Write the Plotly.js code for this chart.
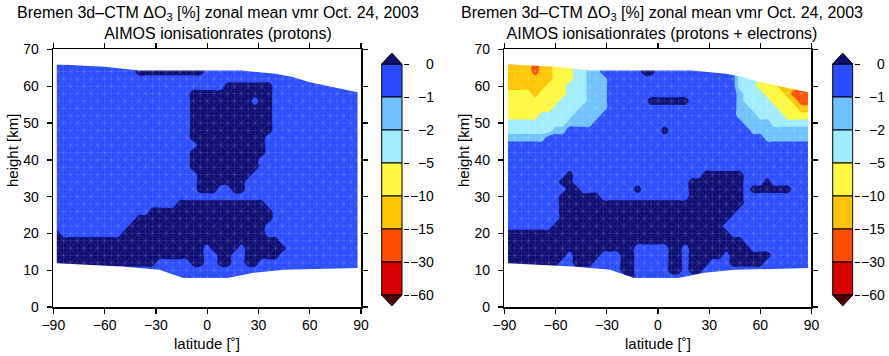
<!DOCTYPE html>
<html>
<head>
<meta charset="utf-8">
<script src="https://cdn.plot.ly/plotly-3.0.1.min.js"></script>
<style>
  html, body { margin: 0; padding: 0; background: #ffffff; }
  #chart { width: 889px; height: 356px; }
</style>
</head>
<body>
<div id="chart"></div>
<script>
// Class boundaries of the ozone change [%] and the colour of each band (top to bottom)
const levels = [0, -1, -2, -5, -10, -15, -30, -60];
const bandColors = ['#2a4bff', '#6ec0ff', '#a0ecff', '#fff83c', '#ffc400', '#ff4d00', '#d90000'];
const aboveColor = '#0c0c72';   // ΔO3 > 0
const belowColor = '#4d0000';   // ΔO3 < -60

// Model grid: latitude columns [deg] and height rows [km] (rows listed top to bottom)
const latitudes = [-88, -84, -80, -76, -72, -68, -64, -60, -56, -52, -48, -44, -40, -36, -32,
                   -28, -24, -20, -16, -12, -8, -4, 0, 4, 8, 12, 16, 20, 24, 28,
                   32, 36, 40, 44, 48, 52, 56, 60, 64, 68, 72, 76, 80, 84, 88];
const heights = [66, 64, 62, 60, 58, 56, 54, 52, 50, 48, 46, 44, 42, 40, 38, 36,
                 34, 32, 30, 28, 26, 24, 22, 20, 18, 16, 14, 12, 10, 8, 6];

// Representative ΔO3 [%] of each class letter used in the gridded fields
const classValue = { n: 0.5, b: -0.5, l: -1.5, c: -3.5, y: -7.5, o: -12.5, r: -22.5, d: -45 };

// ΔO3 field, AIMOS proton ionisation (one string per height row)
const protonRows = [
  'bbbbb bbbbb bbnnn nnnnn nnbbb bbbbb bbbbb bbbbb bbbbb',
  'bbbbb bbbbb bbnnn nnnnn nnbbb bbbbb bbbbb bbbbb bbbbb',
  'bbbbb bbbbb bbbbb bbbbb bbbbb bbbbb bbbbb bbbbb bbbbb',
  'bbbbb bbbbb bbbbb bbbbb bbbbb nnnnn nnbbb bbbbb bbbbb',
  'bbbbb bbbbb bbbbb bbbbb nnnnn nnnnn nnbbb bbbbb bbbbb',
  'bbbbb bbbbb bbbbb bbbbb nnnnn nnnnb nnbbb bbbbb bbbbb',
  'bbbbb bbbbb bbbbb bbbbb nnnnn nnnnn nnbbb bbbbb bbbbb',
  'bbbbb bbbbb bbbbb bbbbb nnnnn nnnnn nnbbb bbbbb bbbbb',
  'bbbbb bbbbb bbbbb bbbbb nnnnn nnnnn nnbbb bbbbb bbbbb',
  'bbbbb bbbbb bbbbb bbbbb nnnnn nnnnn nnbbb bbbbb bbbbb',
  'bbbbb bbbbb bbbbb bbbbb nnnnn nnnnn nbbbb bbbbb bbbbb',
  'bbbbb bbbbb bbbbb bbbbb bnnnn nnnnn nbbbb bbbbb bbbbb',
  'bbbbb bbbbb bbbbb bbbbb nnnnn nnnnn nbbbb bbbbb bbbbb',
  'bbbbb bbbbb bbbbb bbbbb nnnnn nnnnn bbbbb bbbbb bbbbb',
  'bbbbb bbbbb bbbbb bbbbb nnnnn nnnnn bbbbb bbbbb bbbbb',
  'bbbbb bbbbb bbbbb bbbbb bnnnn nnnnb bbbbb bbbbb bbbbb',
  'bbbbb bbbbb bbbbb bbbbb bnnnn nnnbb bbbbb bbbbb bbbbb',
  'bbbbb bbbbb bbbbb bbbbb bnnnb bnnbb bbbbb bbbbb bbbbb',
  'bbbbb bbbbb bbbbb bbbbb bbbbb bbbbb bbbbb bbbbb bbbbb',
  'bbbbb bbbbb bbbbb bbbnn nnnnn nnnnn nbbbb bbbbb bbbbb',
  'bbbbb bbbbb bbbbn nnnnn nnnnn nnnnn nnbbb bbbbb bbbbb',
  'bbbbb bbbbb bbnnn nnnnn nnnnn nnnnn nnbbb bbbbb bbbbb',
  'bbbbb bbbbb bnnnn nnnnn nnnnn nnnnn nbbbb bbbbb bbbbb',
  'nbbbb bbbbb nnnnn nnnnn nnnnn nnnnn nbbbb bbbbb bbbbb',
  'nnnnn nnnnn nnnnn nnnnn nnnnn nnnnn nnnbb bbbbb bbbbb',
  'nnnnn nnnnn nnnnn nnnnn nnbnn nnbnn nnnnb bbbbb bbbbb',
  'nnnnn nnnnn nnnnn nnnnn nnbbn nbbnn nnnbb bbbbb bbbbb',
  'nnnnn nnnnn nnnnn bbbbb nnbbn nbbnn bbbbb bbbbb bbbbb',
  'nnnnn nnnnb bbbbb bbbbb bbbbb bbbbb bbbbb bbbbb bbbbb',
  'bbbbb bbbbb bbbbb bbbbb bbbbb bbbbb bbbbb bbbbb bbbbb',
  'bbbbb bbbbb bbbbb bbbbb bbbbb bbbbb bbbbb bbbbb bbbbb'
];

// ΔO3 field, AIMOS proton + electron ionisation
const electronRows = [
  'oooor ooyyy ccllb bbbbb nnbbb bbbbb bbbbc ccyyy ooorr',
  'oooor ooyyy ccllb bbbbb nnbbb bbbbb bbbbc ccyyy ooorr',
  'ooooo ooyyy cclll bbbbb bbbbb bbbbb bbbbc ccyyy ooorr',
  'ooooo oyyyc cclll bbbbb bbbbb bbbbb bbbbc ccyyy ooorr',
  'yyyyo yyyyc cclll bbbbb bbbbb bbbbb bbbbl cccyy yorrr',
  'yyyyy yyycc cclll bbbbb bnnnn nnbbb bbbbl ccccy yyorr',
  'yyyyy yyccc cllll bbbbb bbbbb bbbbb bbbbl lcccc yyyoo',
  'yyyyy ccccc llllb bbbbb bbbbb bbbbb bbbbl llccc cyyyy',
  'ccccc ccccl lllbb bbbbb bbbbb bbbbb bbbbb llllc ccccc',
  'ccccc ccllb bbbbb bbbbb bbbnb bbbbb bbbbb bllll lllll',
  'lllll lbbbb bbbbb bbbbb bbbbb bbbbb bbbbb bbbll lllll',
  'bbbbb bbbbb bbbbb bbbbb bbbbb bbbbb bbbbb bbbbb bbbbb',
  'bbbbb bbbbb bbbbb bbbbb bbbbb bbbbb bbbbb bbbbb bbbbb',
  'bbbbb bbbbb bbbbb bbbbb bbbbb bbbbb bbbbb bbbbb bbbbb',
  'bbbbb bbbbb bbbbb bbbbb bbbbb bbbbb bbbbb bbbbb bbbbb',
  'bbbbb bbbbn bbbbb bbbbb bbbbb bbbbn nnnnn bbbbb bbbbb',
  'bbbbb bbbnn bbbbb bbbbb bbbbb bbnnn nnnnn bbbnb bbbbb',
  'bbbbb bbbbn nbbbb bbbbn bbbbb bbnnn nnnnn bnnnn nnbbb',
  'bbbbb bbbnn nnnnb bbbbb bbbbb bbnnn nnnnn bbbbb bbbbb',
  'bbbbb bbbnn nnnnn nnnnn nnnnn nnnnn nnnnn bbbbb bbbbb',
  'bbbbb bbbnn nnnnn nnnnn nnnnn nnnnn nnnnb bbbbb bbbbb',
  'bbbbb bbbnn nnnnn nnnnn nnnnn nnnnn nnnbb bbbbb bbbbb',
  'bbbbb bbnnn nnnnn nnnnn nnnnn nnnnn nnbbb bbbbb bbbbb',
  'nnnnn nnnnn nnnnn nnnnn nnnnn nnnnn nnnbb bbbbb bbbbb',
  'nnnnn nnnnn nnnnn nnnnn nnnnn nnnnn nnnnn bbbbb bbbbb',
  'nnnnn nnnnn nnnnn nnnnb bbbbn nbnnn nnnnn nbbbb bbbbb',
  'nnnnn nnnnb nnnnb bbnnb bbbbn nbnnn nnbnn nnnnb bbbbb',
  'nnnnn nnnbb nnnbb bbnnb bbbbn nbnnn bbbnn nnnbb bbbbb',
  'nnnnn bbbbb bbbbb bbnnb bbbbn nbnnb bbbbb bbbbb bbbbb',
  'bbbbb bbbbb bbbbb bbbnb bbbbb bbbbb bbbbb bbbbb bbbbb',
  'bbbbb bbbbb bbbbb bbbbb bbbbb bbbbb bbbbb bbbbb bbbbb'
];

// Upper and lower edge of the model domain [km]
const topLat = [-88, -80, -60, -40, -20, 0, 20, 40, 50, 60, 70, 80, 88];
const topHeight = [66.0, 65.8, 65.3, 64.3, 64.3, 64.4, 64.3, 63.4, 62.5, 61.1, 60.1, 59.2, 58.4];
const bottomLat = [-88, -50, -28, -14, 12, 27, 45, 88];
const bottomHeight = [11.9, 11.0, 10.1, 7.9, 7.9, 9.3, 10.1, 10.6];

const latTicks = [-90, -60, -30, 0, 30, 60, 90];
const heightTicks = [0, 10, 20, 30, 40, 50, 60, 70];

const titleLine1 = 'Bremen 3d\u2013CTM \u0394O<sub>3</sub> [%] zonal mean vmr Oct. 24, 2003';
const panelNames = ['AIMOS ionisationrates (protons)', 'AIMOS ionisationrates (protons + electrons)'];

const FONT = 'Liberation Sans, Arial, Helvetica, sans-serif';

// Map ΔO3 [%] onto an evenly spaced class axis (0 -> 0, -1 -> -1, -2 -> -2, -5 -> -3, ...)
function toClassSpace(v) {
  if (v >= 0) return v;
  for (let k = 0; k < levels.length - 1; k++) {
    const hi = levels[k], lo = levels[k + 1];
    if (v >= lo) return -k - (hi - v) / (hi - lo);
  }
  return -(levels.length - 1) - (levels[levels.length - 1] - v) / 30;
}

function field(rows) {
  return rows.map(r => r.replace(/ /g, '').split('').map(ch => toClassSpace(classValue[ch]))).reverse();
}
const heightsUp = heights.slice().reverse();

// Stepped colour scale: one colour per class band, lowest band first
const fillOrder = bandColors.slice().reverse().concat([aboveColor]);
const nBands = fillOrder.length - 1;
const stepScale = [];
fillOrder.forEach((c, k) => {
  const a = Math.max(0, (k - 0.5) / nBands);
  const b = Math.min(1, (k + 0.5) / nBands);
  stepScale.push([a, c], [b, c]);
});

function contourTrace(rows, xa, ya) {
  return {
    type: 'contour', x: latitudes, y: heightsUp, z: field(rows),
    xaxis: xa, yaxis: ya,
    autocontour: false,
    contours: { start: -(levels.length - 2), end: 0, size: 1, coloring: 'fill', showlines: false },
    colorscale: stepScale, showscale: false,
    line: { width: 0, smoothing: 1.3 },
    hoverinfo: 'skip'
  };
}

// Faint triangulation mesh joining the grid points
function meshTrace(xa, ya) {
  const mx = [], my = [];
  latitudes.forEach(la => { mx.push(la, la, null); my.push(heights[heights.length - 1], heights[0], null); });
  heights.forEach(h => { mx.push(latitudes[0], latitudes[latitudes.length - 1], null); my.push(h, h, null); });
  for (let i = 0; i < latitudes.length - 1; i++) {
    for (let j = 0; j < heights.length - 1; j++) {
      if ((i + j) % 2 === 0) { mx.push(latitudes[i], latitudes[i + 1], null); my.push(heights[j + 1], heights[j], null); }
      else { mx.push(latitudes[i], latitudes[i + 1], null); my.push(heights[j], heights[j + 1], null); }
    }
  }
  return {
    type: 'scatter', mode: 'lines', xaxis: xa, yaxis: ya, x: mx, y: my,
    line: { color: 'rgba(255,255,255,0.2)', width: 0.6 }, hoverinfo: 'skip', connectgaps: false
  };
}

function maskTraces(xa, ya) {
  const top = {
    type: 'scatter', mode: 'lines', xaxis: xa, yaxis: ya,
    x: [-90].concat(topLat, [90, 90, -90]),
    y: [topHeight[0]].concat(topHeight, [topHeight[topHeight.length - 1], 72, 72]),
    fill: 'toself', fillcolor: '#ffffff', line: { width: 0, color: '#ffffff' }, hoverinfo: 'skip'
  };
  const bottom = {
    type: 'scatter', mode: 'lines', xaxis: xa, yaxis: ya,
    x: [-90].concat(bottomLat, [90, 90, -90]),
    y: [bottomHeight[0]].concat(bottomHeight, [bottomHeight[bottomHeight.length - 1], -2, -2]),
    fill: 'toself', fillcolor: '#ffffff', line: { width: 0, color: '#ffffff' }, hoverinfo: 'skip'
  };
  return [top, bottom];
}

// Colour bar drawn as stacked boxes with end triangles
const nBar = bandColors.length;
function colorbarTraces(xa, ya) {
  const bar = {
    type: 'bar', xaxis: xa, yaxis: ya,
    x: bandColors.map(() => 0), y: bandColors.map(() => 1),
    base: bandColors.map((c, k) => nBar - 1 - k),
    width: 1,
    marker: { color: bandColors, line: { color: '#000000', width: 1 } },
    hoverinfo: 'skip'
  };
  const up = {
    type: 'scatter', mode: 'lines', xaxis: xa, yaxis: ya,
    x: [-0.5, 0.5, 0, -0.5], y: [nBar, nBar, nBar + 0.33, nBar],
    fill: 'toself', fillcolor: aboveColor, line: { color: '#000000', width: 1 }, hoverinfo: 'skip'
  };
  const down = {
    type: 'scatter', mode: 'lines', xaxis: xa, yaxis: ya,
    x: [-0.5, 0.5, 0, -0.5], y: [0, 0, -0.33, 0],
    fill: 'toself', fillcolor: belowColor, line: { color: '#000000', width: 1 }, hoverinfo: 'skip'
  };
  return [bar, up, down];
}

const data = [].concat(
  [contourTrace(protonRows, 'x', 'y'), meshTrace('x', 'y')], maskTraces('x', 'y'),
  [contourTrace(electronRows, 'x2', 'y2'), meshTrace('x2', 'y2')], maskTraces('x2', 'y2'),
  colorbarTraces('x3', 'y3'), colorbarTraces('x4', 'y4')
);

const frameAxis = {
  showline: true, linecolor: '#000000', linewidth: 1.6, mirror: 'ticks',
  ticks: 'outside', ticklen: 5, tickwidth: 1.3, tickcolor: '#000000',
  showgrid: false, zeroline: false, fixedrange: true,
  tickfont: { family: FONT, size: 14, color: '#000000' }
};
const plotY = [0.13764, 0.86096];
const cbY = [0.13427, 0.85730];
const cbRange = [-0.4, nBar + 0.4];

function cbAxes(dom) {
  return {
    x: { domain: dom, range: [-0.55, 0.55], visible: false, fixedrange: true },
    y: { domain: cbY, range: cbRange, side: 'right', ticks: 'outside', ticklen: 5,
         tickwidth: 1, tickcolor: '#000000', tickvals: levels.map((v, k) => nBar - k),
         showticklabels: false, showgrid: false, zeroline: false, showline: false, fixedrange: true }
  };
}
const cbL = cbAxes([0.42824, 0.45332]);
const cbR = cbAxes([0.93555, 0.96029]);

const fmt = v => String(v).replace('-', '\u2212');
const annotations = [];
const textFont = { family: FONT, size: 16, color: '#000000' };
[[0.2452, panelNames[0]], [0.7447, panelNames[1]]].forEach(([x, name]) => {
  annotations.push({ xref: 'paper', yref: 'paper', x: x, y: 1 - 2 / 356, xanchor: 'center', yanchor: 'top',
    text: titleLine1 + '<br>' + name, showarrow: false, font: textFont });
});
[[207 / 889, 12 / 889], [658 / 889, 463 / 889]].forEach(([xc, xl]) => {
  annotations.push({ xref: 'paper', yref: 'paper', x: xc, y: (356 - 343) / 356, xanchor: 'center', yanchor: 'middle',
    text: 'latitude [\u02da]', showarrow: false, font: { family: FONT, size: 15, color: '#000000' } });
  annotations.push({ xref: 'paper', yref: 'paper', x: xl, y: (356 - 151) / 356, xanchor: 'center', yanchor: 'middle',
    text: 'height [km]', textangle: -90, showarrow: false, font: { family: FONT, size: 15, color: '#000000' } });
});
// Colour bar labels, right-aligned beside each class boundary
[436 / 889, 887 / 889].forEach(xr => {
  levels.forEach((lv, k) => {
    const yv = nBar - k;
    const yp = cbY[0] + (yv - cbRange[0]) / (cbRange[1] - cbRange[0]) * (cbY[1] - cbY[0]);
    annotations.push({ xref: 'paper', yref: 'paper', x: xr, y: yp, xanchor: 'right', yanchor: 'middle',
      text: fmt(lv), showarrow: false, font: { family: FONT, size: 14, color: '#000000' } });
  });
});

const layout = {
  width: 889, height: 356,
  margin: { l: 0, r: 0, t: 0, b: 0 },
  paper_bgcolor: '#ffffff', plot_bgcolor: '#ffffff',
  showlegend: false, bargap: 0,
  font: { family: FONT, size: 14, color: '#000000' },
  xaxis: Object.assign({}, frameAxis, { domain: [0.05996, 0.40607], range: [-90, 90], tickvals: latTicks, anchor: 'y' }),
  yaxis: Object.assign({}, frameAxis, { domain: plotY, range: [0, 70], tickvals: heightTicks, anchor: 'x', ticklabelstandoff: 5 }),
  xaxis2: Object.assign({}, frameAxis, { domain: [0.56749, 0.91282], range: [-90, 90], tickvals: latTicks, anchor: 'y2' }),
  yaxis2: Object.assign({}, frameAxis, { domain: plotY, range: [0, 70], tickvals: heightTicks, anchor: 'x2', ticklabelstandoff: 5 }),
  xaxis3: Object.assign({}, cbL.x, { anchor: 'y3' }),
  yaxis3: Object.assign({}, cbL.y, { anchor: 'x3' }),
  xaxis4: Object.assign({}, cbR.x, { anchor: 'y4' }),
  yaxis4: Object.assign({}, cbR.y, { anchor: 'x4' }),
  annotations: annotations
};

Plotly.newPlot('chart', data, layout, { staticPlot: true, displayModeBar: false });
</script>
</body>
</html>
